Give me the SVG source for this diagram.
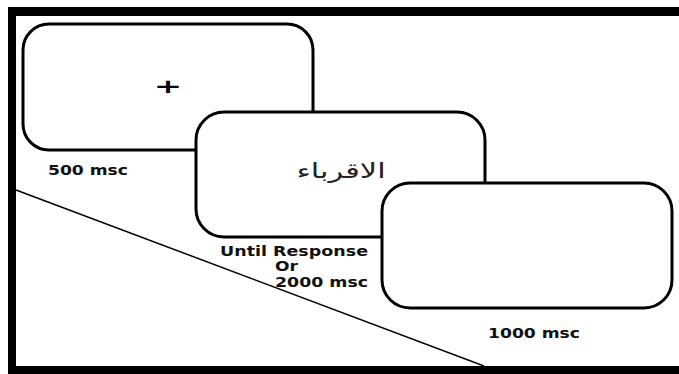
<svg xmlns="http://www.w3.org/2000/svg" width="679" height="374" viewBox="0 0 679 374">
<style>
.box{fill:#fff;stroke:#000;stroke-width:3}
.lbl{font-family:"DejaVu Sans",Verdana,sans-serif;font-weight:bold;font-size:14.5px;fill:#111}
.frame{fill:#000}
</style>
<rect width="679" height="374" fill="#fff"/>
<g id="frame">
<rect class="frame" x="8" y="7" width="671" height="9"/>
<rect class="frame" x="8" y="7" width="8" height="367"/>
<rect class="frame" x="8" y="366" width="671" height="8"/>
</g>
<g id="connectors">
<line x1="16" y1="190" x2="484" y2="366" stroke="#000" stroke-width="1.5"/>
</g>
<g id="screen1">
<rect class="box" x="23" y="24" width="290" height="126" rx="26" ry="26"/>
<text x="0" y="0" transform="translate(168,93) scale(1.7,1)" text-anchor="middle" style="font-family:'DejaVu Sans',sans-serif;font-size:20px;font-weight:bold">+</text>
</g>
<g id="label500">
<text class="lbl" x="48" y="175" textLength="80" lengthAdjust="spacingAndGlyphs">500 msc</text>
</g>
<g id="screen2">
<rect class="box" x="196" y="112" width="289" height="125" rx="28" ry="28"/>
<text x="0" y="0" transform="translate(341,178) scale(1.45,1)" text-anchor="middle" style="font-family:'DejaVu Sans','Noto Sans',sans-serif;font-size:21px;fill:#222">الاقرباء</text>
</g>
<g id="label2000">
<text class="lbl" x="220" y="256" textLength="148" lengthAdjust="spacingAndGlyphs">Until Response</text>
<text class="lbl" x="275" y="271" textLength="23" lengthAdjust="spacingAndGlyphs">Or</text>
<text class="lbl" x="275" y="287" textLength="93" lengthAdjust="spacingAndGlyphs">2000 msc</text>
</g>
<g id="screen3">
<rect class="box" x="382" y="183" width="290" height="125" rx="28" ry="28"/>
</g>
<g id="label1000">
<text class="lbl" x="488" y="338" textLength="92" lengthAdjust="spacingAndGlyphs">1000 msc</text>
</g>
</svg>
